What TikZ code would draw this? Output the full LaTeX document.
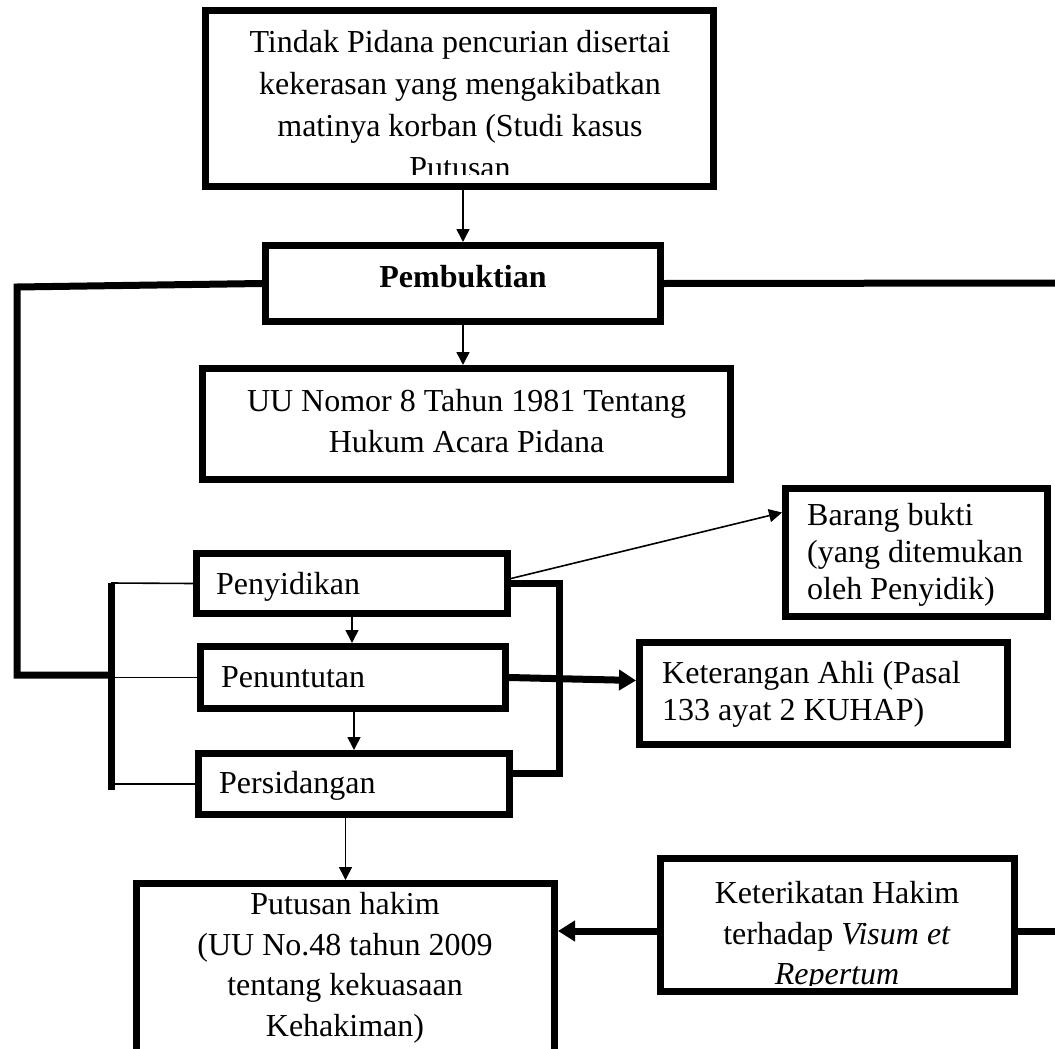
\documentclass[tikz,border=0pt]{standalone}
\usepackage{fontspec}
\setmainfont{Liberation Serif}
\usetikzlibrary{arrows.meta,calc}
\tikzset{
  boxnode/.style={draw, line width=7pt, inner sep=0pt, minimum width=#1},
  txt/.style={inner sep=0pt, font=\fontsize{32pt}{41pt}\selectfont},
  txtwide/.style={inner sep=0pt, font=\fontsize{32pt}{42pt}\selectfont},
  txtnarrow/.style={inner sep=0pt, font=\fontsize{32pt}{36.8pt}\selectfont},
  thinline/.style={line width=1.6pt},
  thinarrow/.style={line width=1.6pt, -{Triangle[length=13pt,width=13pt]}},
  thickline/.style={line width=7pt},
  thickarrow/.style={line width=7pt, -{Triangle[length=17pt,width=20pt]}}
}
\begin{document}
\begin{tikzpicture}[x=1pt,y=-1pt]
\useasboundingbox (0,0) rectangle (1055,1049);
\clip (0,0) rectangle (1055,1049);
\fill[white] (0,0) rectangle (1055,1049);

% boxes
\node[boxnode=508pt, minimum height=176pt] (top) at (459.5,98.5) {};
\node[boxnode=395pt, minimum height=76pt] (pemb) at (463,283.5) {};
\node[boxnode=528pt, minimum height=111pt] (uu) at (466.5,424) {};
\node[boxnode=311pt, minimum height=60pt] (peny) at (352,583.5) {};
\node[boxnode=305pt, minimum height=62pt] (penu) at (353,677.5) {};
\node[boxnode=311pt, minimum height=61pt] (pers) at (354,784) {};
\node[boxnode=262pt, minimum height=128pt] (barang) at (916.5,552.5) {};
\node[boxnode=368pt, minimum height=102pt] (ketahli) at (823.5,693.5) {};
\node[boxnode=418pt, minimum height=196.5pt] (put) at (345.5,981.75) {};
\node[boxnode=354pt, minimum height=133pt] (keth) at (837.5,925) {};

% texts
\begin{scope}
  \clip (209,14) rectangle (710,174);
  \node[txtwide, anchor=north, align=center] (topT) at (460,30)
    {Tindak Pidana pencurian disertai\\kekerasan yang mengakibatkan\\matinya korban (Studi kasus\\Putusan};
\end{scope}
\node[txt, anchor=base, font=\fontsize{32pt}{41pt}\selectfont\bfseries] (pembT) at (463,287) {Pembuktian};
\node[txt, anchor=north, align=center] (uuT) at (466.5,389)
  {UU Nomor 8 Tahun 1981 Tentang\\Hukum Acara Pidana};
\node[txt, anchor=base west] (penyT) at (216,594) {Penyidikan};
\node[txt, anchor=base west] (penuT) at (221,687) {Penuntutan};
\node[txt, anchor=base west] (persT) at (219,793) {Persidangan};
\node[txtnarrow, anchor=north west, align=left] (barangT) at (807,503)
  {Barang bukti\\(yang ditemukan\\oleh Penyidik)};
\node[txtnarrow, anchor=north west, align=left] (ketahliT) at (662,661)
  {Keterangan Ahli (Pasal\\133 ayat 2 KUHAP)};
\node[txt, anchor=north, align=center, font=\fontsize{32pt}{40.7pt}\selectfont] (putT) at (345,892)
  {Putusan hakim\\(UU No.48 tahun 2009\\tentang kekuasaan\\Kehakiman)};
\begin{scope}
  \clip (665,863) rectangle (1010,985.5);
  \node[txt, anchor=north, align=center, font=\fontsize{32pt}{40.7pt}\selectfont] (kethT) at (837,881)
    {Keterikatan Hakim\\terhadap \textit{Visum et}\\\textit{Repertum}};
\end{scope}

% free-end and offset coordinates
\coordinate (L1) at (17,287);
\coordinate (L2) at (17,675);
\coordinate (lbT) at (111,583);
\coordinate (lbB) at (111,790);
\coordinate (rbX) at (559,583.5);
\coordinate (R1) at (1060,283);
\coordinate (persR) at ([yshift=11pt]pers.east);
\coordinate (penyR) at ([yshift=5pt]peny.east);
\coordinate (barangL) at ([yshift=40pt]barang.west);
\coordinate (ketahliL) at ([yshift=13pt]ketahli.west);
\coordinate (kethL) at ([yshift=-6pt]keth.west);
\coordinate (kethR) at ([yshift=-6pt]keth.east);
\coordinate (R2) at (1060,931);

% connectors
\draw[thinarrow] (top.south -| pemb.north) -- (pemb.north);
\draw[thinarrow] (pemb.south) -- (pemb.south |- uu.north);
\draw[thickline] (pemb.west) -- (L1) -- (L2) -- (L2 -| lbT);
\draw[thickline] (pemb.east) -- (R1);
\draw[thickline] (lbT) -- (lbB);
\draw[thinline] (lbT) -- (peny.west);
\draw[thinline] (lbT |- penu.west) -- (penu.west);
\draw[thinline] (lbB |- pers.west) -- (pers.west);
\draw[thickline] (peny.east) -- (rbX) -- (rbX |- persR) -- (persR);
\draw[thinarrow] (penyR) -- (barangL);
\draw[thinarrow] (peny.south) -- (peny.south |- penu.north);
\draw[thinarrow] (penu.south -| pers.north) -- (pers.north);
\draw[thickarrow] (penu.east) -- (ketahliL);
\draw[thinarrow] (pers.south -| put.north) -- (put.north);
\draw[thickarrow] (kethL) -- (kethL -| put.east);
\draw[thickline] (kethR) -- (R2);
\end{tikzpicture}
\end{document}
